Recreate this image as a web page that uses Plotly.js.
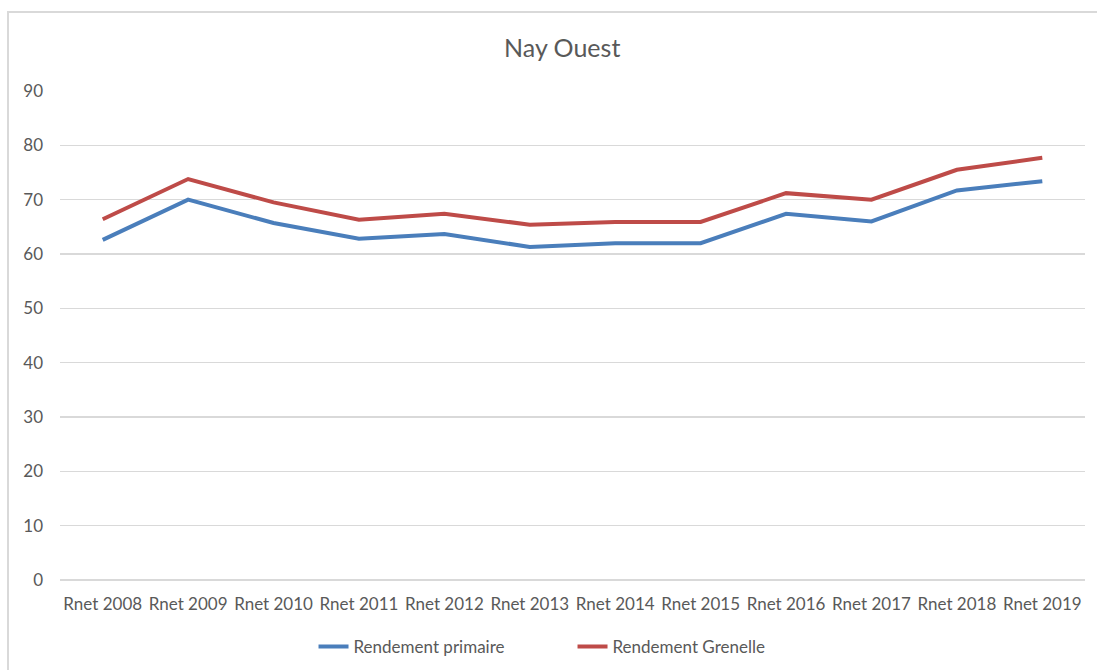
<!DOCTYPE html>
<html>
<head>
<meta charset="utf-8">
<script src="https://cdn.plot.ly/plotly-3.0.1.min.js"></script>
<style>
html,body{margin:0;padding:0;background:#fff;overflow:hidden;}
#frame{position:absolute;left:7px;top:11px;width:1200px;height:800px;border-left:2px solid #d9d9d9;border-top:2px solid #d9d9d9;}
#chart{position:absolute;left:0;top:0;width:1097px;height:670px;}
</style>
</head>
<body>
<div id="frame"></div>
<div id="chart"></div>
<script>
const categories = ["Rnet 2008","Rnet 2009","Rnet 2010","Rnet 2011","Rnet 2012","Rnet 2013","Rnet 2014","Rnet 2015","Rnet 2016","Rnet 2017","Rnet 2018","Rnet 2019"];
const rendementPrimaire = [62.6, 70.0, 65.7, 62.8, 63.7, 61.3, 62.0, 62.0, 67.4, 66.0, 71.7, 73.4];
const rendementGrenelle = [66.4, 73.8, 69.5, 66.3, 67.4, 65.4, 65.9, 65.9, 71.2, 70.0, 75.5, 77.7];
const yTicks = [0,10,20,30,40,50,60,70,80,90];

const font = "Lato, 'Open Sans', sans-serif";
const traces = [
  {x: categories, y: rendementPrimaire, name: "Rendement primaire", type: "scatter", mode: "lines",
   line: {color: "#4a7ebb", width: 4}},
  {x: categories, y: rendementGrenelle, name: "Rendement Grenelle", type: "scatter", mode: "lines",
   line: {color: "#be4b48", width: 4}}
];
const layout = {
  width: 1097, height: 670,
  margin: {l: 60, r: 12, t: 91, b: 90, autoexpand: false},
  paper_bgcolor: "rgba(0,0,0,0)",
  plot_bgcolor: "rgba(0,0,0,0)",
  title: {text: "Nay Ouest", font: {family: font, size: 25, color: "#595959"}, x: 0.5125, xanchor: "center", y: 0.928, yanchor: "middle"},
  xaxis: {type: "category", range: [-0.5, 11.5], showgrid: false, zeroline: false, showline: false, ticks: "", automargin: false,
          tickfont: {family: font, size: 17, color: "#595959"}, ticklabelstandoff: 12, fixedrange: true},
  yaxis: {range: [0, 90], tickvals: yTicks, ticktext: yTicks.map(String), showgrid: true, gridcolor: "#d9d9d9", gridwidth: 1.5,
          zeroline: true, zerolinecolor: "#d9d9d9", zerolinewidth: 1.5, showline: false, ticks: "", automargin: false,
          tickfont: {family: font, size: 17, color: "#595959"}, ticklabelstandoff: 16, fixedrange: true},
  showlegend: true,
  legend: {orientation: "h", xref: "container", yref: "container", x: 0.2858, xanchor: "left", y: 0.0343, yanchor: "middle",
           font: {family: font, size: 17, color: "#595959"}, entrywidth: 214, entrywidthmode: "pixels", bgcolor: "rgba(0,0,0,0)"}
};
Plotly.newPlot("chart", traces, layout, {displayModeBar: false, staticPlot: true});
</script>
</body>
</html>
